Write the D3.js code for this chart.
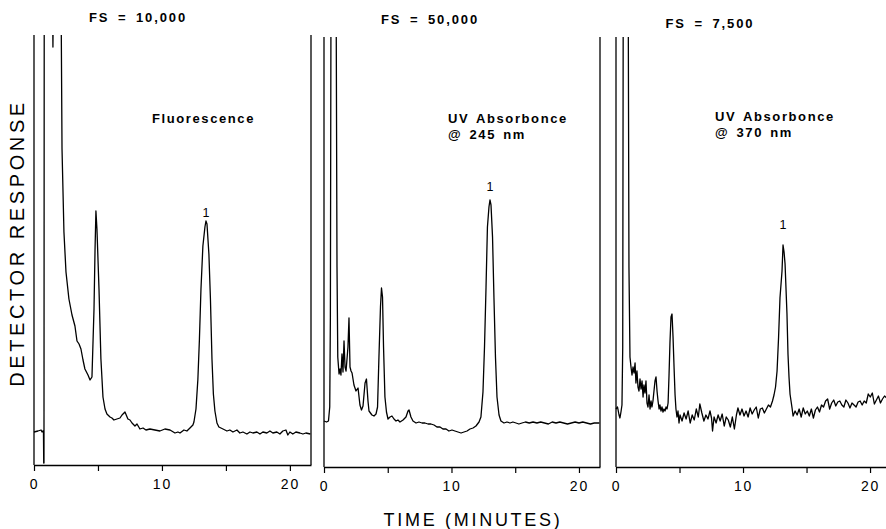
<!DOCTYPE html>
<html><head><meta charset="utf-8">
<script src="https://cdn.jsdelivr.net/npm/d3@7"></script>
<style>body{margin:0;background:#fff} svg{display:block}</style>
</head><body><svg id="c" width="886" height="529"></svg>
<script>
// ---- data ----
const xTicks = [0, 5, 10, 15, 20];
const xTickLabels = ["0", "", "10", "", "20"];
const fsLabels = ["FS = 10,000", "FS = 50,000", "FS = 7,500"];
const detectorLabels = [["Fluorescence"], ["UV Absorbonce", "@ 245 nm"], ["UV Absorbonce", "@ 370 nm"]];
const peakName = "1";
const peakTimes = [13.44, 13.02, 13.15];
const peakLabelLevels = [248, 276, 238];
const yAxisTitle = "DETECTOR RESPONSE";
const xAxisTitle = "TIME (MINUTES)";

// time (min), response (arbitrary units; 430 = full scale, >430 = off-scale)
const traceFluor = [
 [0,33],[0.31,34],[0.55,35],[0.63,33],[0.70,34],[0.74,34],[0.76,2],[0.78,2],[0.80,480],
 [1.44,480],[1.48,418],[1.52,480],[2.11,480],[2.19,316],[2.34,233],[2.5,193],[2.73,166],
 [2.97,150],[3.2,139],[3.36,124],[3.52,121],[3.67,116],[3.83,105],[3.98,96],[4.22,90],
 [4.38,85],[4.53,88],[4.69,156],[4.77,215],[4.84,254],[4.92,236],[5.08,176],[5.23,106],
 [5.39,68],[5.55,56],[5.70,51],[5.94,48],[6.09,47],[6.25,45],[6.48,46],[6.72,47],[6.88,50],
 [7.11,53],[7.34,46],[7.5,45],[7.66,42],[7.89,39],[8.05,41],[8.28,36],[8.52,37],[8.75,35],
 [9.06,36],[9.45,35],[9.84,34],[10.23,36],[10.63,35],[11.02,32],[11.25,33],[11.41,32],
 [11.72,35],[11.95,34],[12.19,37],[12.42,40],[12.5,43],[12.66,56],[12.81,86],[12.93,126],
 [13.05,176],[13.2,219],[13.36,238],[13.44,244],[13.52,241],[13.67,211],[13.79,166],
 [13.91,106],[14.02,71],[14.14,54],[14.3,42],[14.45,38],[14.77,36],[15.08,34],[15.31,35],
 [15.55,33],[15.86,35],[16.09,32],[16.33,33],[16.64,31],[16.88,33],[17.11,32],[17.42,33],
 [17.66,31],[17.89,33],[18.2,32],[18.44,34],[18.67,32],[18.98,33],[19.22,31],[19.45,34],
 [19.69,35],[19.84,30],[20.0,33],[20.23,31],[20.47,33],[20.78,32],[21.02,31],[21.25,32],[21.6,31]
];
const trace245 = [
 [0,46],[0.2,45],[0.35,46],[0.45,60],[0.5,150],[0.55,480],[0.95,480],[1.02,200],[1.08,110],
 [1.18,93],[1.26,98],[1.33,92],[1.41,113],[1.49,95],[1.57,126],[1.65,100],[1.73,96],[1.88,120],
 [1.96,149],[2.04,100],[2.12,96],[2.2,94],[2.35,82],[2.51,76],[2.67,79],[2.82,62],[2.94,57],
 [3.06,61],[3.22,84],[3.33,88],[3.45,66],[3.53,56],[3.76,52],[3.92,51],[4.08,53],[4.2,60],
 [4.31,110],[4.43,160],[4.51,179],[4.59,170],[4.67,120],[4.78,70],[4.9,55],[5.02,48],[5.18,50],
 [5.33,51],[5.49,48],[5.65,46],[5.8,47],[5.96,45],[6.2,47],[6.43,50],[6.59,56],[6.67,57],
 [6.82,50],[6.98,46],[7.22,44],[7.45,45],[7.69,44],[7.92,44],[8.16,43],[8.39,43],[8.63,42],
 [8.86,40],[9.1,40],[9.33,38],[9.57,38],[9.8,36],[10.04,37],[10.27,36],[10.51,35],[10.75,34],
 [10.98,35],[11.22,36],[11.45,38],[11.69,39],[11.92,41],[12.16,45],[12.31,50],[12.47,75],
 [12.59,120],[12.71,180],[12.82,240],[12.94,260],[13.02,267],[13.1,262],[13.22,230],[13.33,170],
 [13.45,110],[13.57,70],[13.73,52],[13.88,46],[14.12,44],[14.35,45],[14.59,44],[14.82,45],
 [15.06,44],[15.29,43],[15.53,44],[15.8,45],[16.1,44],[16.4,45],[16.7,44],[17.0,45],[17.3,44],
 [17.6,43],[17.9,45],[18.2,44],[18.5,45],[18.8,44],[19.1,43],[19.4,44],[19.7,45],[20.0,44],
 [20.3,45],[20.6,44],[20.9,43],[21.2,44],[21.6,44]
];
const trace370 = [
 [0,58],[0.12,60],[0.24,52],[0.31,49],[0.39,55],[0.47,62],[0.53,120],[0.57,480],[0.96,480],
 [1.02,200],[1.1,110],[1.18,100],[1.26,92],[1.34,100],[1.42,94],[1.5,104],[1.57,84],[1.65,96],
 [1.73,80],[1.81,76],[1.89,88],[1.97,78],[2.05,86],[2.13,70],[2.2,82],[2.28,74],[2.36,86],
 [2.44,64],[2.52,60],[2.6,72],[2.68,58],[2.76,66],[2.83,60],[2.91,66],[2.99,76],[3.07,86],
 [3.15,90],[3.23,76],[3.31,66],[3.39,58],[3.46,62],[3.54,56],[3.62,60],[3.7,55],[3.78,58],
 [3.86,56],[3.94,60],[4.02,58],[4.1,64],[4.17,90],[4.25,125],[4.33,150],[4.41,153],[4.49,130],
 [4.57,100],[4.65,72],[4.72,58],[4.8,50],[4.88,56],[4.96,44],[5.04,52],[5.2,46],[5.36,54],
 [5.52,48],[5.68,56],[5.84,44],[6.0,52],[6.16,47],[6.32,58],[6.48,50],[6.6,63],[6.76,54],
 [6.92,46],[7.08,52],[7.24,48],[7.4,56],[7.52,49],[7.6,36],[7.72,50],[7.88,44],[8.04,52],
 [8.2,46],[8.36,53],[8.52,41],[8.68,50],[8.84,47],[9.0,40],[9.16,50],[9.32,38],[9.48,52],
 [9.6,59],[9.76,52],[9.92,58],[10.08,51],[10.24,56],[10.4,50],[10.56,59],[10.72,53],[10.88,57],
 [11.04,60],[11.2,49],[11.36,58],[11.52,59],[11.68,54],[11.84,58],[12.0,62],[12.16,60],
 [12.32,66],[12.44,72],[12.56,80],[12.68,96],[12.8,130],[12.91,169],[13.07,196],[13.15,222],
 [13.23,215],[13.31,203],[13.46,153],[13.54,113],[13.62,90],[13.7,73],[13.86,59],[13.94,51],
 [14.1,56],[14.26,52],[14.42,58],[14.58,50],[14.74,59],[14.9,53],[15.06,56],[15.22,51],
 [15.38,58],[15.54,49],[15.7,57],[15.86,60],[16.02,55],[16.18,62],[16.34,60],[16.5,66],
 [16.66,68],[16.82,58],[16.98,64],[17.14,67],[17.3,61],[17.46,65],[17.62,66],[17.78,62],
 [17.94,60],[18.1,67],[18.26,64],[18.42,59],[18.58,64],[18.74,62],[18.9,60],[19.06,65],
 [19.22,66],[19.38,62],[19.54,66],[19.7,64],[19.86,73],[20.02,70],[20.18,74],[20.34,63],
 [20.5,67],[20.66,71],[20.82,64],[20.98,68],[21.14,71],[21.3,69]
];
const traces = [traceFluor, trace245, trace370];

// ---- layout ----
const timeMax = 21.65;
const fullScale = 430;
const layout = [
  {x0: 34, x1: 311, top: 35, bottom: 465, fsX: 138, fsY: 22, labX: 152, labY: 123},
  {x0: 324, x1: 600, top: 37, bottom: 467, fsX: 430, fsY: 24, labX: 448, labY: 123},
  {x0: 616, x1: 891, top: 37, bottom: 467, fsX: 710, fsY: 28, labX: 715, labY: 121}
];

const svg = d3.select("#c");
const font = "'Liberation Sans', Arial, Helvetica, sans-serif";

layout.forEach((L, i) => {
  const x = d3.scaleLinear().domain([0, timeMax]).range([L.x0, L.x1]);
  const y = d3.scaleLinear().domain([0, fullScale]).range([L.bottom, L.top]);
  const g = svg.append("g");

  g.append("clipPath").attr("id", "clip" + i)
    .append("rect").attr("x", L.x0 - 2).attr("y", L.top)
    .attr("width", L.x1 - L.x0 + 4).attr("height", L.bottom - L.top);

  // frame
  g.append("line").attr("x1", L.x0).attr("x2", L.x0).attr("y1", L.top).attr("y2", L.bottom)
    .attr("stroke", "#000").attr("stroke-width", 1.3);
  g.append("line").attr("x1", L.x1).attr("x2", L.x1).attr("y1", L.top).attr("y2", L.bottom)
    .attr("stroke", "#000").attr("stroke-width", 1.3);

  const ax = g.append("g").attr("transform", `translate(0,${L.bottom})`)
    .call(d3.axisBottom(x).tickValues(xTicks).tickSize(6).tickSizeOuter(0).tickPadding(8)
      .tickFormat((d, k) => xTickLabels[k]));
  ax.select(".domain").attr("stroke-width", 1.3);
  ax.selectAll(".tick line").attr("stroke-width", 1.2);
  ax.selectAll("text").attr("font-family", font).attr("font-size", 14)
    .attr("letter-spacing", "1.8px").attr("fill", "#000");

  // trace
  const line = d3.line().x(d => x(d[0])).y(d => y(d[1]));
  g.append("path").datum(traces[i]).attr("d", line)
    .attr("clip-path", `url(#clip${i})`)
    .attr("fill", "none").attr("stroke", "#000").attr("stroke-width", 1.3)
    .attr("stroke-linejoin", "round");

  // peak label
  g.append("text").attr("x", x(peakTimes[i])).attr("y", y(peakLabelLevels[i]))
    .attr("text-anchor", "middle").attr("font-family", font).attr("font-size", 12.5)
    .text(peakName);

  // FS label
  g.append("text").attr("x", L.fsX).attr("y", L.fsY).attr("text-anchor", "middle")
    .attr("font-family", font).attr("font-size", 13).attr("font-weight", "bold")
    .attr("letter-spacing", "1.9px").attr("word-spacing", "3px")
    .text(fsLabels[i]);

  // detector label
  detectorLabels[i].forEach((t, k) => {
    g.append("text").attr("x", L.labX).attr("y", L.labY + k * 16)
      .attr("font-family", font).attr("font-size", 13).attr("font-weight", "bold")
      .attr("letter-spacing", "1.6px").attr("word-spacing", "2px")
      .text(t);
  });
});

svg.append("text").attr("transform", "translate(24,243) rotate(-90)")
  .attr("text-anchor", "middle").attr("font-family", font).attr("font-size", 20)
  .attr("letter-spacing", "3.6px").text(yAxisTitle);

svg.append("text").attr("x", 473).attr("y", 526).attr("text-anchor", "middle")
  .attr("font-family", font).attr("font-size", 18).attr("letter-spacing", "2.7px")
  .text(xAxisTitle);
</script>
</body></html>
